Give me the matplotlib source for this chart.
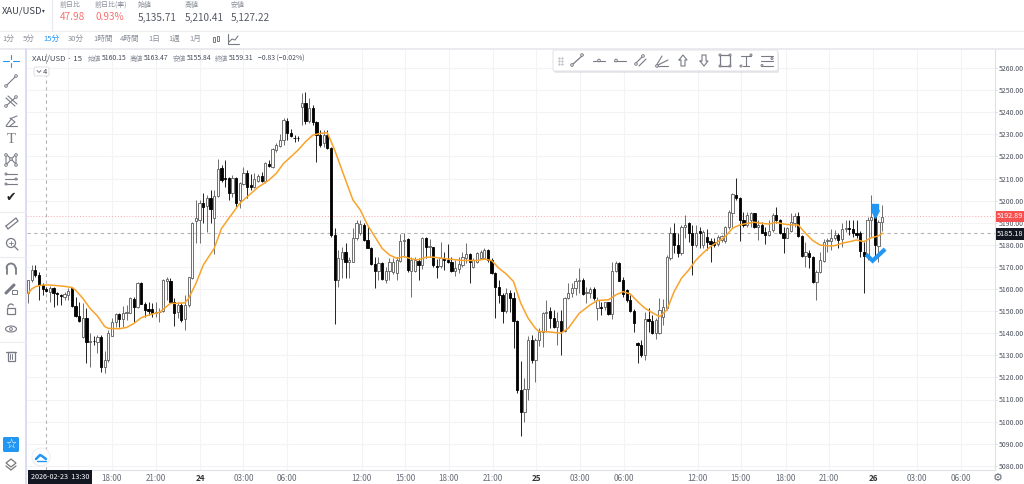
import matplotlib
matplotlib.use("Agg")
import matplotlib.pyplot as plt
from matplotlib.patches import Rectangle, FancyBboxPatch, Circle
import numpy as np

plt.rcParams['font.family'] = ['Noto Sans CJK JP', 'DejaVu Sans']

# candles (15 min bars)
opens = [5158.0,5164.1,5168.6,5166.3,5161.8,5160.0,5158.8,5160.6,5158.3,5157.4,5156.5,5157.4,5160.3,5152.3,5147.8,5138.1,5146.9,5136.2,5136.6,5136.2,
5138.1,5124.5,5127.9,5138.9,5145.2,5148.7,5146.3,5149.3,5149.3,5155.5,5151.7,5162.8,5153.2,5150.8,5150.8,5149.3,5149.4,5150.2,5163.8,5163.6,
5154.3,5149.7,5152.7,5146.3,5152.7,5164.8,5190.7,5191.2,5198.7,5197.5,5201.0,5192.0,5202.2,5214.6,5210.2,5210.0,5203.3,5210.0,5200.2,5207.5,
5212.3,5207.0,5206.0,5209.0,5211.1,5208.8,5216.5,5215.0,5222.9,5224.7,5227.4,5236.0,5230.7,5228.4,5228.4,5242.2,5244.0,5236.0,5242.0,5235.7,
5229.9,5225.9,5229.9,5223.6,5184.5,5164.1,5173.5,5176.9,5172.1,5172.4,5183.0,5185.2,5189.0,5182.2,5178.7,5171.2,5168.2,5171.6,5164.1,5168.2,
5167.9,5167.1,5172.7,5181.9,5182.5,5168.3,5168.3,5172.7,5170.9,5183.0,5178.9,5178.9,5170.6,5170.6,5173.9,5172.9,5172.4,5168.2,5169.1,5170.9,
5173.9,5175.9,5170.1,5172.4,5173.9,5173.9,5177.7,5173.2,5167.1,5161.1,5157.3,5150.2,5158.4,5156.1,5145.3,5114.3,5104.2,5114.6,5137.0,5127.9,
5136.7,5140.7,5149.3,5150.2,5146.8,5143.0,5145.3,5141.2,5156.1,5158.4,5160.6,5163.4,5164.1,5158.1,5158.1,5159.9,5151.3,5151.9,5151.7,5153.9,
5148.7,5168.3,5171.9,5164.1,5159.6,5155.1,5150.2,5135.5,5134.7,5130.2,5146.3,5145.7,5140.0,5140.0,5147.5,5151.3,5173.9,5185.2,5179.9,5176.1,
5187.9,5189.7,5185.5,5179.9,5186.3,5179.9,5183.7,5181.7,5181.1,5180.4,5182.2,5181.9,5187.9,5194.5,5202.5,5201.0,5191.2,5189.0,5191.2,5194.3,
5188.2,5189.0,5186.0,5184.4,5186.7,5193.5,5191.2,5185.2,5183.2,5186.3,5190.0,5193.0,5184.1,5175.0,5176.4,5174.6,5163.0,5167.9,5172.8,5181.7,
5181.9,5182.9,5184.4,5182.5,5187.0,5187.8,5187.0,5185.5,5185.2,5176.9,5175.4,5191.0,5196.5,5179.5,5190.5]
closes = [5164.1,5168.6,5166.3,5161.8,5159.8,5159.2,5160.3,5158.0,5157.7,5156.8,5157.7,5159.2,5152.3,5147.8,5145.4,5146.9,5136.2,5136.5,5136.3,5138.1,
5124.8,5127.9,5139.9,5145.2,5148.7,5146.4,5149.3,5149.6,5155.8,5151.7,5162.8,5153.2,5150.5,5150.2,5149.3,5149.6,5149.7,5164.1,5164.4,5154.3,
5149.3,5152.7,5146.0,5152.7,5165.3,5190.0,5192.2,5199.0,5197.2,5201.0,5196.0,5202.2,5214.3,5209.3,5209.9,5203.6,5210.0,5199.0,5207.8,5212.3,
5206.0,5206.0,5209.6,5211.1,5208.8,5216.8,5215.6,5223.2,5225.0,5227.4,5236.4,5230.7,5229.3,5228.1,5228.1,5244.0,5236.1,5242.0,5235.7,5229.6,
5225.1,5229.9,5223.6,5184.5,5164.1,5173.9,5176.9,5172.1,5173.2,5183.0,5189.7,5189.3,5182.2,5178.7,5171.2,5168.2,5171.6,5164.4,5168.2,5172.4,
5172.4,5173.2,5181.9,5182.2,5168.6,5173.2,5173.2,5170.9,5183.0,5179.2,5179.5,5170.9,5170.1,5173.9,5173.2,5172.1,5168.2,5169.4,5171.3,5174.4,
5175.9,5172.1,5173.2,5176.5,5176.9,5177.7,5173.2,5167.4,5161.1,5157.3,5150.2,5158.4,5155.8,5145.3,5114.3,5104.5,5114.6,5137.0,5127.9,5137.0,
5140.7,5149.3,5149.8,5146.8,5143.0,5145.3,5141.2,5156.1,5158.1,5160.6,5163.4,5164.1,5157.8,5158.5,5159.9,5155.8,5155.1,5151.6,5153.9,5148.7,
5168.3,5171.6,5163.8,5157.6,5155.1,5150.2,5144.8,5134.7,5130.2,5146.3,5145.7,5140.0,5146.0,5150.5,5152.0,5174.3,5185.2,5179.9,5176.1,5188.2,
5189.0,5185.5,5179.9,5185.5,5185.5,5186.0,5181.4,5180.4,5179.9,5183.7,5184.0,5187.9,5195.0,5202.8,5201.0,5191.2,5189.0,5193.5,5194.3,5188.2,
5189.0,5185.5,5184.4,5186.4,5193.5,5191.2,5185.2,5183.2,5187.5,5190.5,5193.0,5184.1,5175.0,5176.9,5174.6,5163.3,5167.9,5173.1,5181.4,5182.2,
5183.2,5184.4,5182.2,5187.0,5187.8,5187.0,5185.5,5184.4,5177.4,5175.0,5191.2,5192.7,5179.9,5190.5,5192.7]
highs = [5164.1,5170.8,5170.8,5167.8,5162.5,5161.0,5161.3,5161.0,5158.8,5157.7,5158.8,5160.3,5161.0,5156.5,5154.3,5153.5,5151.2,5139.9,5138.7,5139.2,
5139.2,5132.1,5141.4,5146.7,5149.0,5149.3,5152.3,5152.7,5156.5,5156.5,5163.3,5163.3,5154.3,5154.3,5153.5,5154.3,5151.2,5164.4,5165.3,5164.8,
5155.8,5154.3,5153.5,5157.3,5165.6,5190.4,5200.2,5200.2,5203.3,5202.5,5204.8,5204.8,5218.8,5216.1,5218.3,5210.8,5211.5,5210.8,5208.5,5215.3,
5213.8,5212.0,5212.3,5212.0,5213.1,5217.6,5218.3,5223.6,5225.9,5230.1,5237.5,5237.2,5232.2,5229.6,5229.2,5248.9,5249.3,5246.2,5243.2,5236.1,
5231.9,5231.9,5231.9,5224.4,5187.5,5177.7,5179.2,5181.0,5174.7,5187.5,5191.0,5191.3,5189.7,5188.2,5179.2,5174.7,5174.7,5172.4,5170.1,5173.9,
5173.9,5174.7,5184.9,5185.2,5183.0,5174.7,5174.7,5173.9,5183.4,5183.4,5182.5,5179.2,5173.5,5181.1,5176.9,5180.4,5174.7,5173.2,5174.7,5176.9,
5180.7,5176.2,5173.9,5176.9,5177.7,5178.4,5178.1,5173.9,5167.9,5164.1,5158.1,5160.3,5159.6,5158.8,5146.0,5127.2,5119.6,5138.8,5139.2,5137.7,
5142.2,5149.8,5155.1,5151.7,5150.5,5149.8,5150.5,5156.6,5162.6,5162.6,5164.9,5169.4,5164.9,5161.1,5160.8,5160.8,5156.6,5154.3,5154.3,5154.3,
5172.4,5172.7,5172.3,5165.3,5159.9,5157.3,5150.8,5136.2,5137.0,5149.8,5151.3,5148.3,5146.8,5155.8,5155.3,5175.4,5188.2,5189.7,5185.2,5189.0,
5193.5,5190.5,5189.0,5189.0,5188.2,5186.7,5187.0,5182.9,5182.9,5184.4,5184.4,5188.5,5195.8,5203.6,5210.1,5201.8,5195.0,5195.0,5195.0,5194.5,
5191.2,5190.5,5188.2,5191.2,5194.3,5197.0,5191.5,5187.9,5188.2,5194.3,5194.3,5195.0,5184.4,5181.4,5177.7,5174.9,5168.6,5176.9,5182.5,5182.9,
5187.0,5186.7,5185.2,5189.7,5191.2,5191.2,5191.2,5191.2,5186.4,5181.4,5192.4,5202.5,5197.3,5191.2,5198.0]
lows = [5153.5,5163.3,5165.6,5155.0,5157.3,5158.8,5154.3,5152.0,5152.7,5152.7,5155.0,5155.0,5152.0,5147.5,5145.2,5137.7,5126.4,5124.8,5134.6,5130.9,
5122.6,5122.1,5127.1,5138.7,5142.9,5142.9,5142.9,5146.0,5149.0,5144.9,5151.2,5153.0,5147.5,5148.2,5147.5,5147.5,5145.2,5149.7,5155.0,5153.5,
5143.4,5146.7,5145.2,5141.4,5152.0,5164.4,5180.6,5180.6,5190.0,5185.9,5189.7,5175.7,5201.7,5208.5,5206.3,5200.2,5201.7,5197.2,5196.5,5207.0,
5201.0,5204.8,5205.5,5208.5,5208.2,5207.8,5215.0,5214.6,5222.1,5224.1,5225.1,5227.4,5228.6,5226.6,5227.1,5234.2,5234.6,5235.2,5234.2,5217.6,
5224.4,5224.4,5223.2,5183.7,5144.2,5160.8,5164.9,5164.9,5164.9,5172.0,5182.2,5184.5,5181.9,5178.4,5170.9,5160.3,5164.1,5164.1,5162.9,5164.1,
5166.8,5164.1,5172.4,5174.7,5167.9,5156.3,5167.9,5164.1,5168.9,5173.9,5174.7,5170.1,5164.9,5169.4,5168.6,5171.6,5167.9,5165.9,5167.1,5170.1,
5171.6,5162.9,5169.4,5171.6,5173.5,5173.5,5172.4,5166.8,5146.8,5153.5,5144.8,5149.0,5149.8,5133.2,5112.8,5093.5,5100.0,5109.8,5126.4,5117.8,
5134.2,5133.6,5140.7,5142.2,5142.2,5134.7,5130.2,5140.7,5155.5,5156.6,5157.3,5158.1,5157.3,5153.5,5155.8,5155.1,5146.0,5148.3,5150.5,5148.3,
5146.3,5167.9,5163.4,5156.6,5154.3,5149.8,5140.4,5126.7,5129.4,5127.9,5140.7,5139.7,5137.3,5139.7,5143.7,5150.5,5173.1,5176.1,5174.3,5175.4,
5182.9,5181.4,5166.3,5179.2,5178.4,5178.4,5177.7,5172.4,5179.2,5179.5,5181.4,5180.7,5187.0,5187.5,5200.3,5181.9,5188.2,5188.2,5188.2,5187.5,
5182.2,5185.2,5180.4,5184.0,5186.0,5189.7,5184.9,5176.4,5182.9,5186.0,5188.2,5183.7,5174.6,5169.8,5169.4,5162.9,5155.0,5167.1,5172.4,5176.9,
5177.7,5182.2,5178.4,5178.9,5186.0,5184.4,5183.7,5183.0,5174.3,5158.4,5173.1,5183.7,5173.9,5172.4,5186.4]

# orange moving average, read at these bars
ma_bars = [0,1,2,3,4,6,8,10,12,13,15,17,19,21,22,25,27,29,31,34,36,37,39,41,43,44,46,48,51,53,57,58,60,63,66,68,70,72,74,76,78,80,82,84,86,89,91,93,95,97,99,101,103,105,107,109,111,115,119,123,125,127,129,131,133,135,137,139,140,142,146,148,151,154,156,159,161,163,165,167,169,171,173,175,177,179,181,183,185,187,189,191,193,195,197,199,201,203,205,207,209,211,213,215,217,219,221,223,225,227,229,231,233,234]
ma_vals = [5158.0,5160.0,5161.0,5161.5,5161.8,5161.8,5161.5,5161.2,5160.7,5159.5,5155.8,5151.2,5147.8,5143.0,5142.2,5142.0,5142.6,5144.4,5147.0,5148.7,5149.4,5150.8,5153.5,5153.5,5153.8,5155.8,5162.5,5170.8,5178.4,5187.4,5196.5,5198.7,5201.7,5206.0,5209.3,5212.3,5216.8,5219.8,5222.9,5226.6,5229.6,5230.4,5230.7,5222.9,5213.8,5200.3,5195.8,5189.0,5183.7,5178.4,5175.4,5173.9,5174.7,5173.6,5173.2,5174.4,5174.4,5173.6,5172.9,5172.9,5173.5,5172.9,5169.4,5166.8,5163.4,5153.5,5146.8,5142.2,5140.7,5140.7,5140.0,5142.2,5149.0,5152.8,5154.8,5155.1,5157.3,5158.8,5157.8,5154.3,5151.3,5149.3,5147.5,5150.5,5158.8,5164.8,5168.6,5173.1,5176.4,5179.2,5181.4,5183.7,5187.5,5189.0,5189.7,5190.2,5189.7,5189.4,5190.2,5189.4,5189.0,5189.0,5185.2,5181.9,5179.9,5179.5,5179.6,5180.7,5181.4,5182.2,5181.4,5183.2,5184.0,5185.2]

# axis ticks
price_ticks = list(range(5080, 5261, 10))
time_pos = [11,23,35,47.1,59,71,91.4,103.3,115.3,127.4,139.2,151.2,163.3,183.5,195.3,207.6,219.4,231.5,243.5,255.6]
time_lbl = ['','18:00','21:00','24','03:00','06:00','12:00','15:00','18:00','21:00','25','03:00','06:00','12:00','15:00','18:00','21:00','26','03:00','06:00']
day_lbl = ['24','25','26']

last_price = 5192.89
cross_price = 5185.18
cross_bar = 5

# blue drawings on the last bars
arrow_bar, arrow_price = 232, 5195.5
check_bars = [230, 231.4, 234.4]
check_prices = [5175.0, 5172.8, 5177.4]

BLUE = '#2196f3'
GREY = '#787b86'
TXT = '#555a66'

fig = plt.figure(figsize=(10.24, 4.84), dpi=100, facecolor='white')
ax = fig.add_axes([27/1024, 14/484, 968/1024, 420/484])
ax.set_xlim((27-28.05)/3.65, (995-28.05)/3.65)
ax.set_ylim(5260-402/2.21, 5260+18/2.21)

o, c, h, l = map(np.array, (opens, closes, highs, lows))
x = np.arange(len(o))
up = c >= o
ax.set_axisbelow(True)
ax.grid(True, color='#f3f3f6', lw=0.8)
ax.vlines(x[up], l[up], h[up], color='#6e6e6e', lw=0.7, zorder=2)
ax.vlines(x[~up], l[~up], h[~up], color='#222222', lw=0.7, zorder=2)
ax.bar(x[up], (c-o)[up], bottom=o[up], width=0.62, facecolor='white', edgecolor='#5a5a5a', lw=0.6, zorder=3)
ax.bar(x[~up], (o-c)[~up], bottom=c[~up], width=0.62, facecolor='black', edgecolor='black', lw=0.6, zorder=3)
ax.plot(ma_bars, ma_vals, color='#f9a32a', lw=1.1, zorder=4)

ax.axhline(last_price, color='#f7a8a8', lw=0.7, ls=(0, (1, 2)), zorder=1)
ax.axhline(cross_price, color='#b5b5b5', lw=0.8, ls=(0, (3, 3)), zorder=1)
ax.axvline(cross_bar, color='#b5b5b5', lw=0.8, ls=(0, (3, 3)), zorder=1)

ax.plot(check_bars, check_prices, color=BLUE, lw=3, solid_joinstyle='miter', zorder=5)
ax.scatter([arrow_bar], [arrow_price + 1.5], marker='s', s=22, color=BLUE, zorder=5)
ax.scatter([arrow_bar], [arrow_price - 1.5], marker='v', s=30, color=BLUE, zorder=5)

ax.yaxis.tick_right()
ax.set_yticks(price_ticks)
ax.set_yticklabels(['%.2f' % p for p in price_ticks])
ax.set_xticks(time_pos)
ax.set_xticklabels(time_lbl)
ax.tick_params(axis='y', labelsize=5.0, labelcolor='#4a4f5a', length=1.5, color='#d5d5da', width=0.6, pad=1)
ax.tick_params(axis='x', labelsize=5.8, labelcolor='#666b76', length=0, pad=3)
for t in ax.get_xticklabels():
    if t.get_text() in day_lbl:
        t.set_fontweight('bold')
        t.set_color('#333333')
for s in ['top', 'left']:
    ax.spines[s].set_visible(False)
for s in ['right', 'bottom']:
    ax.spines[s].set_color('#e0e1e6')
    ax.spines[s].set_linewidth(0.8)

# everything around the chart, in screen pixels
ui = fig.add_axes([0, 0, 1, 1], zorder=10)
ui.set_xlim(0, 1024)
ui.set_ylim(484, 0)
ui.axis('off')
ui.patch.set_alpha(0)


def line(xs, ys, col=GREY, lw=0.8, **kw):
    ui.plot(xs, ys, color=col, lw=lw, solid_capstyle='round', **kw)


def dot(px, py, col=GREY, r=1.3):
    ui.add_patch(Circle((px, py), r, facecolor='white', edgecolor=col, lw=0.7, zorder=6))


def txt(px, py, s, size=6, col=TXT, **kw):
    kw.setdefault('va', 'center')
    ui.text(px, py, s, fontsize=size, color=col, **kw)


# header
line([0, 1024], [31, 31], '#eeeef2', 0.8)
line([0, 1024], [48.5, 48.5], '#e6e6ec', 1.2)
line([51.5, 51.5], [0, 31], '#e8e8ee', 0.8)
line([26, 26], [49, 484], '#dcdcf0', 1.4)
txt(2, 11, 'XAU/USD', 6.8, '#3a3f4a')
txt(41.5, 11, '▾', 4, '#3a3f4a')
head_x = [60, 95, 138, 185, 231]
head_top = ['前日比', '前日比(率)', '始値', '高値', '安値']
head_val = ['47.98', '0.93%', '5,135.71', '5,210.41', '5,127.22']
for i in range(5):
    txt(head_x[i], 5, head_top[i], 5, '#8a8f9a')
    txt(head_x[i], 17.5, head_val[i], 7.2, '#f77272' if i < 2 else '#555a66')

tab_x = [2, 23, 43, 68, 93, 120, 148, 168, 189]
tabs = ['1分', '5分', '15分', '30分', '1時間', '4時間', '1日', '1週', '1月']
for px, s in zip(tab_x, tabs):
    txt(px, 39, s, 5.5, BLUE if s == '15分' else '#8a8f9a')
ui.add_patch(Rectangle((212.5, 36.5), 2.2, 5, facecolor='white', edgecolor=GREY, lw=0.7))
ui.add_patch(Rectangle((216.5, 35.5), 2.2, 5, facecolor='white', edgecolor=GREY, lw=0.7))
line([228, 228, 239], [34, 44, 44], GREY, 0.8)
line([229, 232, 235, 238], [42, 39, 40, 36], GREY, 0.8)

# legend line
txt(32, 58.5, 'XAU/USD · 15', 5.6, '#444955')
leg_x = [88, 130, 173, 215]
leg_n = ['始値', '高値', '安値', '終値']
leg_v = ['5160.15', '5163.47', '5155.84', '5159.31']
for px, n, v in zip(leg_x, leg_n, leg_v):
    txt(px, 58.5, n, 4.8, '#8a8f9a')
    txt(px + 13.8, 58.5, v, 4.9, '#444955')
txt(258, 58.5, '−0.83 (−0.02%)', 4.9, '#444955')
ui.add_patch(FancyBboxPatch((34, 67), 15, 9, boxstyle='round,pad=0,rounding_size=1.5', facecolor='white', edgecolor='#e0e0e6', lw=0.7))
line([37, 39, 41], [70.5, 72.5, 70.5], GREY, 0.7)
txt(43, 71.5, '4', 5.5, '#444955')

# floating draw toolbar
ui.add_patch(FancyBboxPatch((554, 52), 225, 21, boxstyle='round,pad=0,rounding_size=2', facecolor='#d8d8e0', edgecolor='none', alpha=0.6))
ui.add_patch(FancyBboxPatch((553, 50), 225, 21, boxstyle='round,pad=0,rounding_size=2', facecolor='white', edgecolor='#dddde4', lw=0.6))
for yy in (57.5, 60.5, 63.5):
    for xx in (559, 561.5):
        ui.plot([xx], [yy], '.', ms=1, color='#b0b0b8')
line([572, 583], [65, 55], GREY, 0.9); dot(572, 65); dot(582, 55)
line([593, 605], [60.5, 60.5]); dot(599, 60.5)
line([614, 626], [60.5, 60.5]); dot(616, 60.5)
line([636, 643], [63, 56]); line([639, 646], [66, 59]); dot(636, 64); dot(643, 56)
line([656, 668], [66, 66]); line([656, 662], [66, 56]); line([656, 668], [66, 60]); dot(657, 66)
line([679, 683, 687, 685, 685, 681, 681, 679], [60, 55, 60, 60, 66, 66, 60, 60])
line([700, 704, 708, 706, 706, 702, 702, 700], [61, 66, 61, 61, 55, 55, 61, 61])
ui.add_patch(Rectangle((720, 55), 10, 11, fill=False, edgecolor=GREY, lw=0.9))
for px, py in ((720, 55), (730, 55), (720, 66), (730, 66)):
    dot(px, py, r=1)
line([741, 751], [56, 56]); line([746, 746], [56, 66]); line([743, 749], [66, 66]); dot(751, 55, r=1); dot(741, 66, r=1)
for py in (56, 61, 66):
    line([761, 773], [py, py])
dot(772, 58.5, r=1); dot(762, 65.5, r=1)

# left toolbar
line([3, 9], [61, 61], BLUE, 0.8); line([13, 19], [61, 61], BLUE, 0.8)
line([11, 11], [55, 59], BLUE, 0.8); line([11, 11], [63, 67], BLUE, 0.8)
line([6, 16], [86, 76]); dot(6, 86); dot(16, 76)
line([6, 15], [98, 106]); line([8, 17], [96, 104]); line([6, 16], [106, 97]); dot(6, 106); dot(16, 97)
line([6, 17], [126, 126]); line([6, 12, 17], [126, 118, 116]); line([10, 15, 10], [118, 122, 126])
txt(11, 139.5, 'T', 10.5, GREY, ha='center', family='Liberation Serif')
line([6, 6, 16, 16, 6], [165, 154, 164, 154, 165]); dot(6, 155); dot(16, 155); dot(6, 165); dot(16, 165); dot(11, 159)
for py in (174, 179, 184):
    line([5, 17], [py, py])
dot(6, 174, r=1); dot(16, 179, r=1); dot(6, 184, r=1)
txt(11, 198, '✔', 9, '#222222', ha='center', family='DejaVu Sans')
line([0, 26], [212, 212], '#ececf0', 0.8)
line([6, 16, 18, 8, 6], [226, 218, 221, 229, 226], GREY, 0.9)
ui.add_patch(Circle((11, 243), 4.5, fill=False, edgecolor=GREY, lw=0.9))
line([14, 18], [246, 250], GREY, 0.9); line([9, 13], [243, 243], GREY, 0.6); line([11, 11], [241, 245], GREY, 0.6)
line([0, 26], [257, 257], '#ececf0', 0.8)
t = np.radians(np.arange(180, 361, 20))
line(11 + 4.5*np.cos(t), 268 + 4.5*np.sin(t), GREY, 1.3)
line([6.5, 6.5], [268, 274], GREY, 1.3); line([15.5, 15.5], [268, 274], GREY, 1.3)
line([6, 14], [293, 285], GREY, 2.2); ui.add_patch(Rectangle((12, 290), 5, 4, fill=False, edgecolor=GREY, lw=0.7))
ui.add_patch(Rectangle((7, 308), 8, 6, fill=False, edgecolor=GREY, lw=0.9))
t2 = np.radians(np.arange(180, 330, 20))
line(11 + 3*np.cos(t2), 307 + 3*np.sin(t2), GREY, 0.9)
line(11 + 5.5*np.cos(t), 329 + 3*np.sin(t), GREY, 0.8); line(11 + 5.5*np.cos(t), 329 - 3*np.sin(t), GREY, 0.8)
ui.add_patch(Circle((11, 329), 1.4, fill=False, edgecolor=GREY, lw=0.7))
line([0, 26], [342, 342], '#ececf0', 0.8)
ui.add_patch(Rectangle((7.5, 352), 7, 9, fill=False, edgecolor=GREY, lw=0.9))
line([6, 16], [351.5, 351.5], GREY, 0.9)
line([10, 10], [354, 359], GREY, 0.7); line([12, 12], [354, 359], GREY, 0.7)
ui.add_patch(FancyBboxPatch((3, 437), 16, 15, boxstyle='round,pad=0,rounding_size=1.5', facecolor=BLUE, edgecolor='none'))
txt(11, 444.5, '☆', 9, 'white', ha='center', family='DejaVu Sans')
ui.fill([6, 11, 16, 11], [463, 459, 463, 467], facecolor='white', edgecolor='#777777', lw=0.9)
line([6, 11, 16], [466, 470, 466], '#777777', 0.9)

# badge bottom left
ui.add_patch(Circle((41, 457), 9, facecolor='white', edgecolor='#ececf0', lw=0.7))
line([36, 40, 42, 46], [459, 455, 456, 459], BLUE, 1.8)
line([37, 46], [460.5, 460.5], BLUE, 1)

# price and date boxes
ui.add_patch(Rectangle((996, 211), 28, 11, facecolor='#f65050', edgecolor='none'))
txt(1010, 216.3, '5192.89', 5.2, 'white', ha='center')
ui.add_patch(Rectangle((996, 228), 28, 11.5, facecolor='#131722', edgecolor='none'))
txt(1010, 233.5, '5185.18', 5.2, 'white', ha='center')
ui.add_patch(Rectangle((28, 470), 64, 14, facecolor='#131722', edgecolor='none'))
txt(60, 477, '2026-02-23  13:30', 5.2, 'white', ha='center')
txt(998, 478, '⚙', 8, '#666b76', ha='center', family='DejaVu Sans')

fig.savefig('out.png', dpi=100, facecolor='white')
